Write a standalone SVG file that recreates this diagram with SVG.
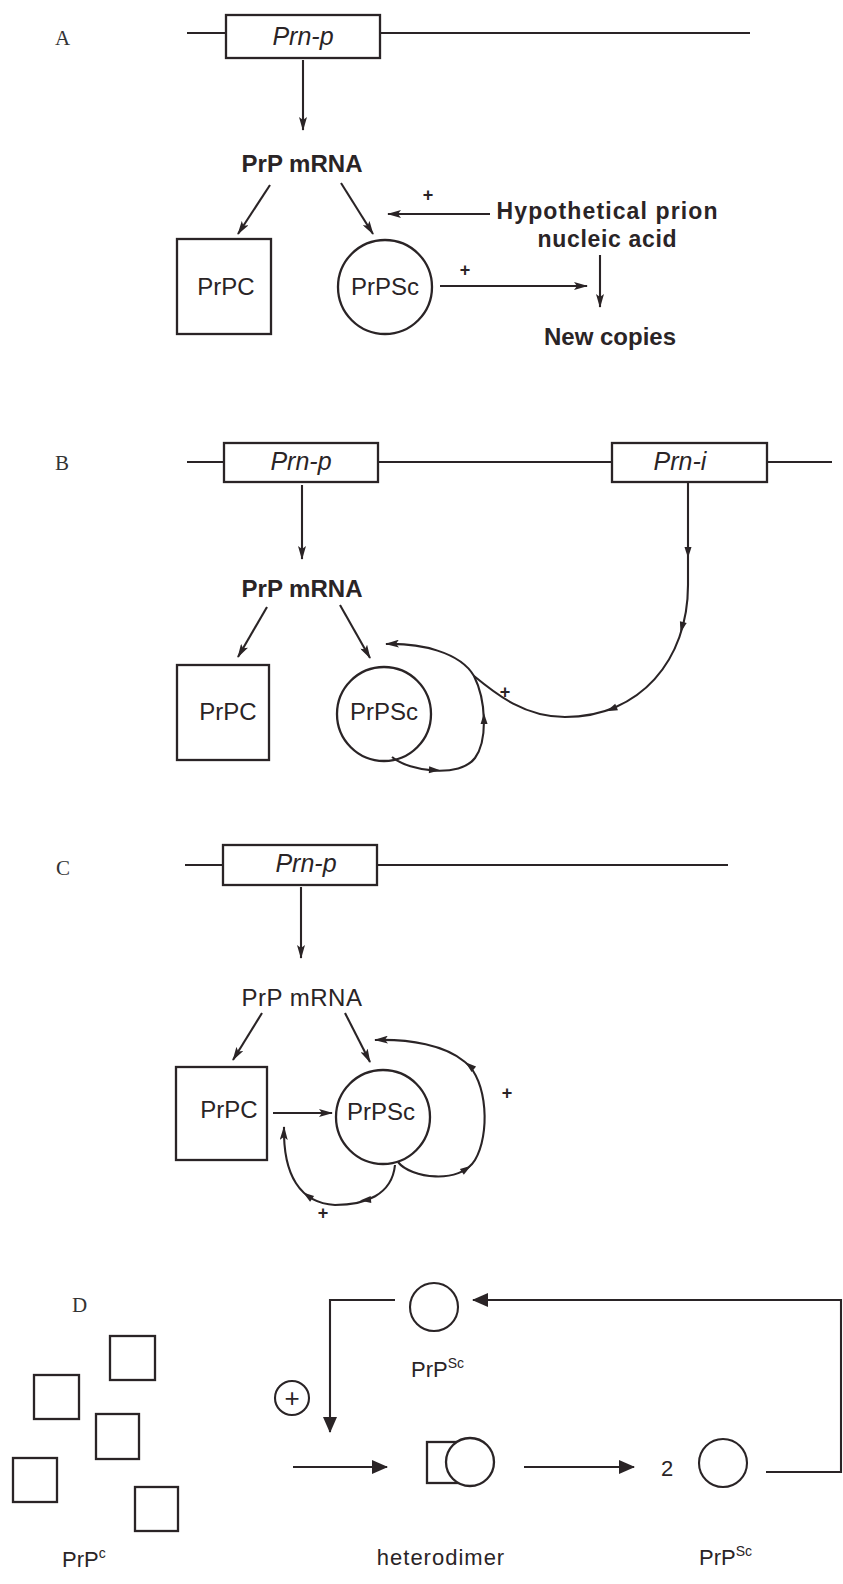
<svg xmlns="http://www.w3.org/2000/svg" xmlns:xlink="http://www.w3.org/1999/xlink" width="843" height="1584" viewBox="0 0 843 1584">
<style>
.ln{stroke:#2a2426;stroke-width:2.1;fill:none}
.bx{fill:#fff;stroke:#2a2426;stroke-width:2.3}
.sq{fill:none;stroke:#2a2426;stroke-width:2.3}
.t{font-family:"Liberation Sans",Arial,Helvetica,sans-serif;fill:#2a2426}
.b{font-weight:bold}
.it{font-style:italic;font-size:25px}
.big{font-size:24px}
.lab{font-family:"Liberation Serif","Times New Roman",serif;font-size:21px;fill:#333}
.pl{font-family:"Liberation Sans",Arial,sans-serif;font-size:18px;font-weight:bold;fill:#2a2426}
.ah{fill:#2a2426}
</style>
<defs>
<marker id="arr" viewBox="0 0 14 8" refX="13" refY="4" markerWidth="14" markerHeight="8" orient="auto" markerUnits="userSpaceOnUse"><path d="M0,0 L14,4 L0,8 L3,4 z" fill="#2a2426"/></marker>
<marker id="arrD" viewBox="0 0 16 14" refX="15" refY="7" markerWidth="16" markerHeight="14" orient="auto" markerUnits="userSpaceOnUse"><path d="M0,0 L16,7 L0,14 z" fill="#2a2426"/></marker>
<path id="tri" d="M6,0 L-5,-3.5 L-5,3.5 z"/>
</defs>
<rect width="843" height="1584" fill="#fff"/>

<!-- Panel A -->
<g id="panelA">
<text class="lab" x="55" y="45">A</text>
<g id="A-gene"><path class="ln" d="M187,33 H226 M380,33 H750"/><rect class="bx" x="226" y="15" width="154" height="43"/><text class="t it" x="303" y="45" text-anchor="middle">Prn-p</text></g>
<g id="A-mrna"><text class="t b big" x="302" y="172" text-anchor="middle">PrP mRNA</text></g>
<g id="A-prpc"><rect class="bx" x="177" y="239" width="94" height="95"/><text class="t big" x="226" y="295" text-anchor="middle">PrPC</text></g>
<g id="A-prpsc"><circle class="bx" cx="385" cy="287" r="47"/><text class="t big" x="385" y="295" text-anchor="middle">PrPSc</text></g>
<g id="A-nucleic"><text class="t b" font-size="23" x="607" y="219" text-anchor="middle" textLength="221" lengthAdjust="spacing">Hypothetical prion</text><text class="t b" font-size="23" x="607" y="247" text-anchor="middle" textLength="139" lengthAdjust="spacing">nucleic acid</text></g>
<g id="A-copies"><text class="t b big" x="610" y="345" text-anchor="middle">New copies</text></g>
<g id="A-connectors">
<path class="ln" d="M303,60 V130" marker-end="url(#arr)"/>
<path class="ln" d="M270,185 L238,234" marker-end="url(#arr)"/>
<path class="ln" d="M341,183 L373,234" marker-end="url(#arr)"/>
<path class="ln" d="M490,214 H388" marker-end="url(#arr)"/>
<path class="ln" d="M600,255 V307" marker-end="url(#arr)"/>
<path class="ln" d="M440,286 H587" marker-end="url(#arr)"/>
<text class="pl" x="428" y="201" text-anchor="middle">+</text>
<text class="pl" x="465" y="276" text-anchor="middle">+</text>
</g>
</g>

<!-- Panel B -->
<g id="panelB">
<text class="lab" x="55" y="470">B</text>
<g id="B-gene"><path class="ln" d="M187,462 H224 M378,462 H612 M767,462 H832"/><rect class="bx" x="224" y="443" width="154" height="39"/><text class="t it" x="301" y="470" text-anchor="middle">Prn-p</text><rect class="bx" x="612" y="443" width="155" height="39"/><text class="t it" x="680" y="470" text-anchor="middle">Prn-i</text></g>
<g id="B-mrna"><text class="t b big" x="302" y="597" text-anchor="middle">PrP mRNA</text></g>
<g id="B-prpc"><rect class="bx" x="177" y="665" width="92" height="95"/><text class="t big" x="228" y="720" text-anchor="middle">PrPC</text></g>
<g id="B-prpsc"><circle class="bx" cx="384" cy="714" r="47"/><text class="t big" x="384" y="720" text-anchor="middle">PrPSc</text></g>
<g id="B-connectors">
<path class="ln" d="M302,485 V559" marker-end="url(#arr)"/>
<path class="ln" d="M267,607 L238,657" marker-end="url(#arr)"/>
<path class="ln" d="M340,605 L370,658" marker-end="url(#arr)"/>
<path class="ln" d="M392,757 C410,772 460,778 475,758 C488,740 486,700 474,676 C460,652 420,643 386,644" marker-end="url(#arr)"/>
<path class="ln" d="M688,482 V585 C688,660 640,717 565,717 C525,717 497,695 474,676"/>
<use xlink:href="#tri" class="ah" transform="translate(688,552) rotate(90)"/>
<use xlink:href="#tri" class="ah" transform="translate(682,627) rotate(105)"/>
<use xlink:href="#tri" class="ah" transform="translate(612,709) rotate(157)"/>
<use xlink:href="#tri" class="ah" transform="translate(484,719) rotate(-91)"/>
<use xlink:href="#tri" class="ah" transform="translate(434,770) rotate(3)"/>
<text class="pl" x="505" y="698" text-anchor="middle">+</text>
</g>
</g>

<!-- Panel C -->
<g id="panelC">
<text class="lab" x="56" y="875">C</text>
<g id="C-gene"><path class="ln" d="M185,865 H223 M377,865 H728"/><rect class="bx" x="223" y="845" width="154" height="40"/><text class="t it" x="306" y="872" text-anchor="middle">Prn-p</text></g>
<g id="C-mrna"><text class="t big" x="302" y="1006" text-anchor="middle" letter-spacing="0.5">PrP mRNA</text></g>
<g id="C-prpc"><rect class="bx" x="176" y="1067" width="91" height="93"/><text class="t big" x="229" y="1118" text-anchor="middle">PrPC</text></g>
<g id="C-prpsc"><circle class="bx" cx="383" cy="1117" r="47"/><text class="t big" x="381" y="1120" text-anchor="middle">PrPSc</text></g>
<g id="C-connectors">
<path class="ln" d="M301,887 V958" marker-end="url(#arr)"/>
<path class="ln" d="M262,1013 L233,1060" marker-end="url(#arr)"/>
<path class="ln" d="M345,1013 L370,1062" marker-end="url(#arr)"/>
<path class="ln" d="M273,1113 H332" marker-end="url(#arr)"/>
<path class="ln" d="M398,1162 C410,1178 460,1185 475,1160 C490,1135 488,1080 465,1062 C445,1045 410,1039 375,1040" marker-end="url(#arr)"/>
<path class="ln" d="M395,1165 C392,1195 365,1205 335,1205 C300,1203 283,1175 284,1127" marker-end="url(#arr)"/>
<use xlink:href="#tri" class="ah" transform="translate(466,1169) rotate(-34)"/>
<use xlink:href="#tri" class="ah" transform="translate(470,1066) rotate(-140)"/>
<use xlink:href="#tri" class="ah" transform="translate(366,1200) rotate(175)"/>
<use xlink:href="#tri" class="ah" transform="translate(308,1196) rotate(-145)"/>
<text class="pl" x="507" y="1099" text-anchor="middle">+</text>
<text class="pl" x="323" y="1219" text-anchor="middle">+</text>
</g>
</g>

<!-- Panel D -->
<g id="panelD">
<text class="lab" x="72" y="1312">D</text>
<g id="D-prpc">
<rect class="sq" x="110" y="1336" width="45" height="44"/>
<rect class="sq" x="34" y="1375" width="45" height="44"/>
<rect class="sq" x="96" y="1414" width="43" height="45"/>
<rect class="sq" x="13" y="1458" width="44" height="44"/>
<rect class="sq" x="135" y="1487" width="43" height="44"/>
<text class="t" x="62" y="1567" font-size="22">PrP<tspan font-size="14" dy="-9">c</tspan></text>
</g>
<g id="D-plus"><circle class="ln" cx="292" cy="1398" r="17"/><text class="t" x="292" y="1407" font-size="26" text-anchor="middle">+</text></g>
<g id="D-prpsc-top"><circle class="ln" cx="434" cy="1307" r="24"/><text class="t" x="411" y="1377" font-size="22">PrP<tspan font-size="14" dy="-9">Sc</tspan></text></g>
<g id="D-heterodimer"><rect class="sq" x="427" y="1442" width="40" height="41"/><circle class="bx" cx="470" cy="1462" r="24"/><text class="t" x="441" y="1565" font-size="22" text-anchor="middle" letter-spacing="1">heterodimer</text></g>
<g id="D-prpsc-out"><text class="t" x="667" y="1476" font-size="22" text-anchor="middle">2</text><circle class="ln" cx="723" cy="1463" r="24"/><text class="t" x="699" y="1565" font-size="22">PrP<tspan font-size="14" dy="-9">Sc</tspan></text></g>
<g id="D-connectors">
<path class="ln" d="M395,1300 H330 V1432" marker-end="url(#arrD)"/>
<path class="ln" d="M293,1467 H387" marker-end="url(#arrD)"/>
<path class="ln" d="M524,1467 H634" marker-end="url(#arrD)"/>
<path class="ln" d="M766,1472 H841 V1300 H473" marker-end="url(#arrD)"/>
</g>
</g>
</svg>
